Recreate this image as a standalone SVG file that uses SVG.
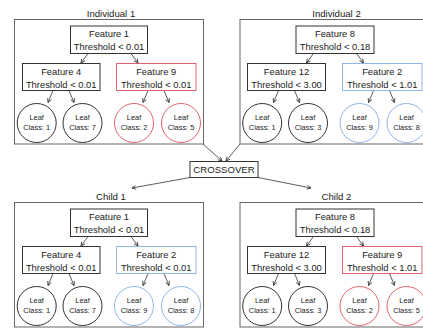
<svg xmlns="http://www.w3.org/2000/svg" width="423" height="329" viewBox="0 0 423 329">
  <defs>
    <marker id="arrow" viewBox="0 0 10 10" refX="9" refY="5" markerWidth="5" markerHeight="5" markerUnits="userSpaceOnUse" orient="auto">
      <path d="M1,1 L9,5 L1,9" fill="none" stroke="#333" stroke-width="1.6"/>
    </marker>
    <style>
      text { font-family: "Liberation Sans", Arial, sans-serif; fill: #222; text-anchor: middle; }
      .title { font-size: 9.6px; }
      .feat { font-size: 9.4px; }
      .leaf { font-size: 7.4px; }
      .panel { fill: #fff; stroke: #666; stroke-width: 1; }
      .box { fill: #fff; stroke: #333; stroke-width: 1; }
      .box.red { stroke: #e06470; }
      .box.blue { stroke: #8fb6e3; }
      .circ { fill: #fff; stroke: #333; stroke-width: 1; }
      .circ.red { stroke: #e06470; }
      .circ.blue { stroke: #8fb6e3; }
      .edge { stroke: #333; stroke-width: 0.8; fill: none; marker-end: url(#arrow); }
    </style>
  </defs>
  <rect width="423" height="329" fill="#fff"/>

  <!-- Individual 1 -->
  <g id="individual1">
    <text class="title" x="111" y="16.5">Individual 1</text>
    <rect class="panel" x="14.5" y="19.5" width="189" height="124.5"/>
    <g id="ind1-edges">
      <line class="edge" x1="88" y1="53.5" x2="81" y2="63"/>
      <line class="edge" x1="131" y1="53.5" x2="138" y2="63"/>
      <line class="edge" x1="53" y1="90.5" x2="48" y2="102.5"/>
      <line class="edge" x1="69" y1="90.5" x2="74" y2="102.5"/>
      <line class="edge" x1="148" y1="90.5" x2="143" y2="102.5"/>
      <line class="edge" x1="164" y1="90.5" x2="169" y2="102.5"/>
    </g>
    <g id="ind1-f1">
      <rect class="box" x="70.5" y="26" width="77" height="27.5"/>
      <text class="feat" x="109" y="36.5">Feature 1</text>
      <text class="feat" x="109" y="49.5">Threshold &lt; 0.01</text>
    </g>
    <g id="ind1-f4">
      <rect class="box" x="22.5" y="63.5" width="77.5" height="27"/>
      <text class="feat" x="61.2" y="74.5">Feature 4</text>
      <text class="feat" x="61.2" y="87.5">Threshold &lt; 0.01</text>
    </g>
    <g id="ind1-f9">
      <rect class="box red" x="116.5" y="63.5" width="79.5" height="27"/>
      <text class="feat" x="156.2" y="74.5">Feature 9</text>
      <text class="feat" x="156.2" y="87.5">Threshold &lt; 0.01</text>
    </g>
    <g id="ind1-leaf1">
      <circle class="circ" cx="36.7" cy="123" r="19.5"/>
      <text class="leaf" x="36.7" y="119.5">Leaf</text>
      <text class="leaf" x="36.7" y="130">Class: 1</text>
    </g>
    <g id="ind1-leaf7">
      <circle class="circ" cx="82.5" cy="123" r="19.5"/>
      <text class="leaf" x="82.5" y="119.5">Leaf</text>
      <text class="leaf" x="82.5" y="130">Class: 7</text>
    </g>
    <g id="ind1-leaf2">
      <circle class="circ red" cx="134" cy="123" r="19.5"/>
      <text class="leaf" x="134" y="119.5">Leaf</text>
      <text class="leaf" x="134" y="130">Class: 2</text>
    </g>
    <g id="ind1-leaf5">
      <circle class="circ red" cx="181" cy="123" r="19.5"/>
      <text class="leaf" x="181" y="119.5">Leaf</text>
      <text class="leaf" x="181" y="130">Class: 5</text>
    </g>
  </g>

  <!-- Individual 2 -->
  <g id="individual2" transform="translate(225.5,0)">
    <text class="title" x="111" y="16.5">Individual 2</text>
    <rect class="panel" x="14.5" y="19.5" width="189" height="124.5"/>
    <g id="ind2-edges">
      <line class="edge" x1="88" y1="53.5" x2="81" y2="63"/>
      <line class="edge" x1="131" y1="53.5" x2="138" y2="63"/>
      <line class="edge" x1="53" y1="90.5" x2="48" y2="102.5"/>
      <line class="edge" x1="69" y1="90.5" x2="74" y2="102.5"/>
      <line class="edge" x1="148" y1="90.5" x2="143" y2="102.5"/>
      <line class="edge" x1="164" y1="90.5" x2="169" y2="102.5"/>
    </g>
    <g id="ind2-f8">
      <rect class="box" x="70.5" y="26" width="78" height="27.5"/>
      <text class="feat" x="109.5" y="36.5">Feature 8</text>
      <text class="feat" x="109.5" y="49.5">Threshold &lt; 0.18</text>
    </g>
    <g id="ind2-f12">
      <rect class="box" x="22" y="63.5" width="78" height="27"/>
      <text class="feat" x="61" y="74.5">Feature 12</text>
      <text class="feat" x="61" y="87.5">Threshold &lt; 3.00</text>
    </g>
    <g id="ind2-f2">
      <rect class="box blue" x="117" y="63.5" width="79.5" height="27"/>
      <text class="feat" x="156.7" y="74.5">Feature 2</text>
      <text class="feat" x="156.7" y="87.5">Threshold &lt; 1.01</text>
    </g>
    <g id="ind2-leaf1">
      <circle class="circ" cx="36.7" cy="123" r="19.5"/>
      <text class="leaf" x="36.7" y="119.5">Leaf</text>
      <text class="leaf" x="36.7" y="130">Class: 1</text>
    </g>
    <g id="ind2-leaf3">
      <circle class="circ" cx="82.5" cy="123" r="19.5"/>
      <text class="leaf" x="82.5" y="119.5">Leaf</text>
      <text class="leaf" x="82.5" y="130">Class: 3</text>
    </g>
    <g id="ind2-leaf9">
      <circle class="circ blue" cx="134" cy="123" r="19.5"/>
      <text class="leaf" x="134" y="119.5">Leaf</text>
      <text class="leaf" x="134" y="130">Class: 9</text>
    </g>
    <g id="ind2-leaf8">
      <circle class="circ blue" cx="181" cy="123" r="19.5"/>
      <text class="leaf" x="181" y="119.5">Leaf</text>
      <text class="leaf" x="181" y="130">Class: 8</text>
    </g>
  </g>

  <!-- Crossover step -->
  <g id="crossover-edges">
    <line class="edge" x1="203" y1="144" x2="222" y2="161"/>
    <line class="edge" x1="240" y1="144" x2="226" y2="161"/>
    <line class="edge" x1="190" y1="177.5" x2="132" y2="188"/>
    <line class="edge" x1="258" y1="177.5" x2="311" y2="188"/>
  </g>
  <g id="crossover">
    <rect class="box" x="190" y="161.5" width="68" height="16"/>
    <text class="title" x="224" y="173">CROSSOVER</text>
  </g>

  <!-- Child 1 -->
  <g id="child1" transform="translate(0,183)">
    <text class="title" x="111" y="16.5">Child 1</text>
    <rect class="panel" x="14.5" y="19.5" width="189" height="124.5"/>
    <g id="ch1-edges">
      <line class="edge" x1="88" y1="53.5" x2="81" y2="63"/>
      <line class="edge" x1="131" y1="53.5" x2="138" y2="63"/>
      <line class="edge" x1="53" y1="90.5" x2="48" y2="102.5"/>
      <line class="edge" x1="69" y1="90.5" x2="74" y2="102.5"/>
      <line class="edge" x1="148" y1="90.5" x2="143" y2="102.5"/>
      <line class="edge" x1="164" y1="90.5" x2="169" y2="102.5"/>
    </g>
    <g id="ch1-f1">
      <rect class="box" x="70.5" y="26" width="77" height="27.5"/>
      <text class="feat" x="109" y="36.5">Feature 1</text>
      <text class="feat" x="109" y="49.5">Threshold &lt; 0.01</text>
    </g>
    <g id="ch1-f4">
      <rect class="box" x="22.5" y="63.5" width="77.5" height="27"/>
      <text class="feat" x="61.2" y="74.5">Feature 4</text>
      <text class="feat" x="61.2" y="87.5">Threshold &lt; 0.01</text>
    </g>
    <g id="ch1-f2">
      <rect class="box blue" x="116.5" y="63.5" width="79.5" height="27"/>
      <text class="feat" x="156.2" y="74.5">Feature 2</text>
      <text class="feat" x="156.2" y="87.5">Threshold &lt; 0.01</text>
    </g>
    <g id="ch1-leaf1">
      <circle class="circ" cx="36.7" cy="123" r="19.5"/>
      <text class="leaf" x="36.7" y="119.5">Leaf</text>
      <text class="leaf" x="36.7" y="130">Class: 1</text>
    </g>
    <g id="ch1-leaf7">
      <circle class="circ" cx="82.5" cy="123" r="19.5"/>
      <text class="leaf" x="82.5" y="119.5">Leaf</text>
      <text class="leaf" x="82.5" y="130">Class: 7</text>
    </g>
    <g id="ch1-leaf9">
      <circle class="circ blue" cx="134" cy="123" r="19.5"/>
      <text class="leaf" x="134" y="119.5">Leaf</text>
      <text class="leaf" x="134" y="130">Class: 9</text>
    </g>
    <g id="ch1-leaf8">
      <circle class="circ blue" cx="181" cy="123" r="19.5"/>
      <text class="leaf" x="181" y="119.5">Leaf</text>
      <text class="leaf" x="181" y="130">Class: 8</text>
    </g>
  </g>

  <!-- Child 2 -->
  <g id="child2" transform="translate(225.5,183)">
    <text class="title" x="111" y="16.5">Child 2</text>
    <rect class="panel" x="14.5" y="19.5" width="189" height="124.5"/>
    <g id="ch2-edges">
      <line class="edge" x1="88" y1="53.5" x2="81" y2="63"/>
      <line class="edge" x1="131" y1="53.5" x2="138" y2="63"/>
      <line class="edge" x1="53" y1="90.5" x2="48" y2="102.5"/>
      <line class="edge" x1="69" y1="90.5" x2="74" y2="102.5"/>
      <line class="edge" x1="148" y1="90.5" x2="143" y2="102.5"/>
      <line class="edge" x1="164" y1="90.5" x2="169" y2="102.5"/>
    </g>
    <g id="ch2-f8">
      <rect class="box" x="70.5" y="26" width="78" height="27.5"/>
      <text class="feat" x="109.5" y="36.5">Feature 8</text>
      <text class="feat" x="109.5" y="49.5">Threshold &lt; 0.18</text>
    </g>
    <g id="ch2-f12">
      <rect class="box" x="22" y="63.5" width="78" height="27"/>
      <text class="feat" x="61" y="74.5">Feature 12</text>
      <text class="feat" x="61" y="87.5">Threshold &lt; 3.00</text>
    </g>
    <g id="ch2-f9">
      <rect class="box red" x="117" y="63.5" width="79.5" height="27"/>
      <text class="feat" x="156.7" y="74.5">Feature 9</text>
      <text class="feat" x="156.7" y="87.5">Threshold &lt; 1.01</text>
    </g>
    <g id="ch2-leaf1">
      <circle class="circ" cx="36.7" cy="123" r="19.5"/>
      <text class="leaf" x="36.7" y="119.5">Leaf</text>
      <text class="leaf" x="36.7" y="130">Class: 1</text>
    </g>
    <g id="ch2-leaf3">
      <circle class="circ" cx="82.5" cy="123" r="19.5"/>
      <text class="leaf" x="82.5" y="119.5">Leaf</text>
      <text class="leaf" x="82.5" y="130">Class: 3</text>
    </g>
    <g id="ch2-leaf2">
      <circle class="circ red" cx="134" cy="123" r="19.5"/>
      <text class="leaf" x="134" y="119.5">Leaf</text>
      <text class="leaf" x="134" y="130">Class: 2</text>
    </g>
    <g id="ch2-leaf5">
      <circle class="circ red" cx="181" cy="123" r="19.5"/>
      <text class="leaf" x="181" y="119.5">Leaf</text>
      <text class="leaf" x="181" y="130">Class: 5</text>
    </g>
  </g>
</svg>
